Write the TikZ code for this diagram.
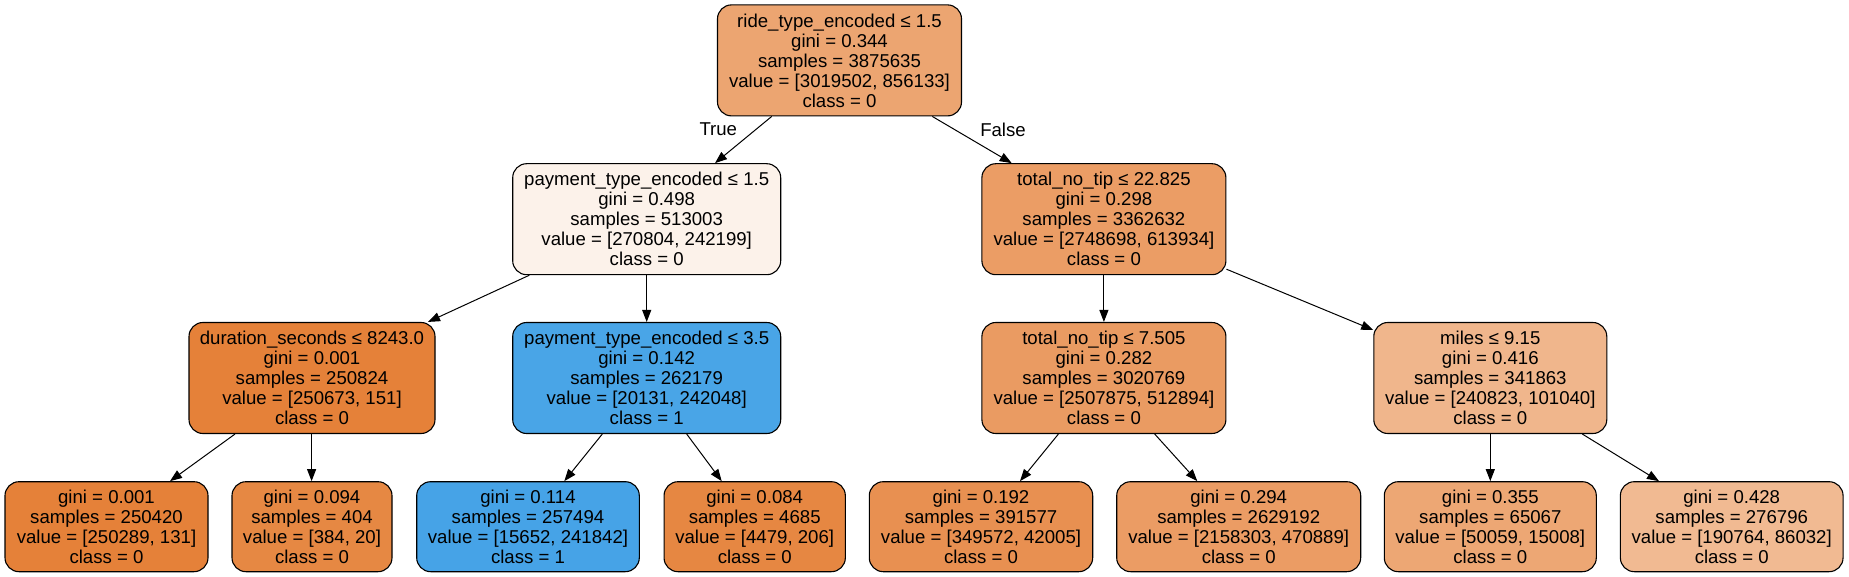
\documentclass[tikz,border=0pt]{standalone}
\usepackage{fontspec}
\setmainfont{Liberation Sans}
\usetikzlibrary{arrows.meta}
\definecolor{cRoot}{RGB}{236,165,113}
\definecolor{cPayA}{RGB}{252,242,234}
\definecolor{cTotA}{RGB}{235,157,101}
\definecolor{cDur}{RGB}{229,129,57}
\definecolor{cPayB}{RGB}{73,165,231}
\definecolor{cTotB}{RGB}{234,155,98}
\definecolor{cMiles}{RGB}{240,182,140}
\definecolor{cLa}{RGB}{229,129,57}
\definecolor{cLb}{RGB}{230,136,67}
\definecolor{cLc}{RGB}{70,163,231}
\definecolor{cLd}{RGB}{230,135,66}
\definecolor{cLe}{RGB}{232,144,81}
\definecolor{cLf}{RGB}{235,156,100}
\definecolor{cLg}{RGB}{237,167,116}
\definecolor{cLh}{RGB}{241,186,146}
\tikzset{
  tnode/.style={draw=black, line width=1.1pt, rounded corners=14pt, align=center,
    inner sep=0pt, minimum height=111pt},
  leafbox/.style={tnode, minimum height=90pt},
  edge/.style={line width=1pt, -{Triangle[length=12pt,width=9pt]}},
  edgelbl/.style={inner sep=0pt}
}
\begin{document}
\begin{tikzpicture}[x=1pt, y=-1pt, font=\fontsize{18.6}{20}\selectfont]
\fill[white] (0,0) rectangle (1849,577);
\useasboundingbox (0,0) rectangle (1849,577);
% level 0
\node[tnode, fill=cRoot, minimum width=244pt] (root) at (839.5,60.4)
  {ride\_type\_encoded ≤ 1.5\\gini = 0.344\\samples = 3875635\\value = [3019502, 856133]\\class = 0};
% level 1
\node[tnode, fill=cPayA, minimum width=268pt] (pay1) at (646.7,219.2)
  {payment\_type\_encoded ≤ 1.5\\gini = 0.498\\samples = 513003\\value = [270804, 242199]\\class = 0};
\node[tnode, fill=cTotA, minimum width=244pt] (tot1) at (1103.9,219.2)
  {total\_no\_tip ≤ 22.825\\gini = 0.298\\samples = 3362632\\value = [2748698, 613934]\\class = 0};
% level 2
\node[tnode, fill=cDur, minimum width=246pt] (dur) at (312,378)
  {duration\_seconds ≤ 8243.0\\gini = 0.001\\samples = 250824\\value = [250673, 151]\\class = 0};
\node[tnode, fill=cPayB, minimum width=268pt] (pay3) at (646.7,378)
  {payment\_type\_encoded ≤ 3.5\\gini = 0.142\\samples = 262179\\value = [20131, 242048]\\class = 1};
\node[tnode, fill=cTotB, minimum width=244pt] (tot7) at (1103.9,378)
  {total\_no\_tip ≤ 7.505\\gini = 0.282\\samples = 3020769\\value = [2507875, 512894]\\class = 0};
\node[tnode, fill=cMiles, minimum width=233pt] (miles) at (1490.3,378)
  {miles ≤ 9.15\\gini = 0.416\\samples = 341863\\value = [240823, 101040]\\class = 0};
% level 3
\node[leafbox, fill=cLa, minimum width=203pt] (la) at (106.5,526.7)
  {gini = 0.001\\samples = 250420\\value = [250289, 131]\\class = 0};
\node[leafbox, fill=cLb, minimum width=160pt] (lb) at (312,526.7)
  {gini = 0.094\\samples = 404\\value = [384, 20]\\class = 0};
\node[leafbox, fill=cLc, minimum width=222.6pt] (lc) at (528,526.7)
  {gini = 0.114\\samples = 257494\\value = [15652, 241842]\\class = 1};
\node[leafbox, fill=cLd, minimum width=181.3pt] (ld) at (754.7,526.7)
  {gini = 0.084\\samples = 4685\\value = [4479, 206]\\class = 0};
\node[leafbox, fill=cLe, minimum width=223.4pt] (le) at (981,526.7)
  {gini = 0.192\\samples = 391577\\value = [349572, 42005]\\class = 0};
\node[leafbox, fill=cLf, minimum width=244pt] (lf) at (1238.7,526.7)
  {gini = 0.294\\samples = 2629192\\value = [2158303, 470889]\\class = 0};
\node[leafbox, fill=cLg, minimum width=212pt] (lg) at (1490.3,526.7)
  {gini = 0.355\\samples = 65067\\value = [50059, 15008]\\class = 0};
\node[leafbox, fill=cLh, minimum width=222.7pt] (lh) at (1731.7,526.7)
  {gini = 0.428\\samples = 276796\\value = [190764, 86032]\\class = 0};
% edges
\draw[edge] ([xshift=-67.8pt]root.south) -- ([xshift=68.3pt]pay1.north);
\draw[edge] ([xshift=92.8pt]root.south) -- ([xshift=-92.2pt]tot1.north);
\draw[edge] ([xshift=-117.4pt]pay1.south) -- ([xshift=116pt]dur.north);
\draw[edge] (pay1.south) -- (pay3.north);
\draw[edge] (tot1.south) -- (tot7.north);
\draw[edge] ([yshift=-50pt]tot1.east) -- ([yshift=48pt]miles.west);
\draw[edge] ([xshift=-77pt]dur.south) -- ([xshift=63.5pt]la.north);
\draw[edge] ([xshift=-0.4pt]dur.south) -- ([xshift=-0.4pt]lb.north);
\draw[edge] ([xshift=-44.4pt]pay3.south) -- ([xshift=36.3pt]lc.north);
\draw[edge] ([xshift=40pt]pay3.south) -- ([xshift=-33pt]ld.north);
\draw[edge] ([xshift=-45.5pt]tot7.south) -- ([xshift=39pt]le.north);
\draw[edge] ([xshift=50.8pt]tot7.south) -- ([xshift=-41.4pt]lf.north);
\draw[edge] (miles.south) -- (lg.north);
\draw[edge] ([xshift=92pt]miles.south) -- ([xshift=-72.7pt]lh.north);
% edge labels
\node[edgelbl] (ltrue) at (718.3,129.3) {True};
\node[edgelbl] (lfalse) at (1003,129.5) {False};
\end{tikzpicture}
\end{document}
